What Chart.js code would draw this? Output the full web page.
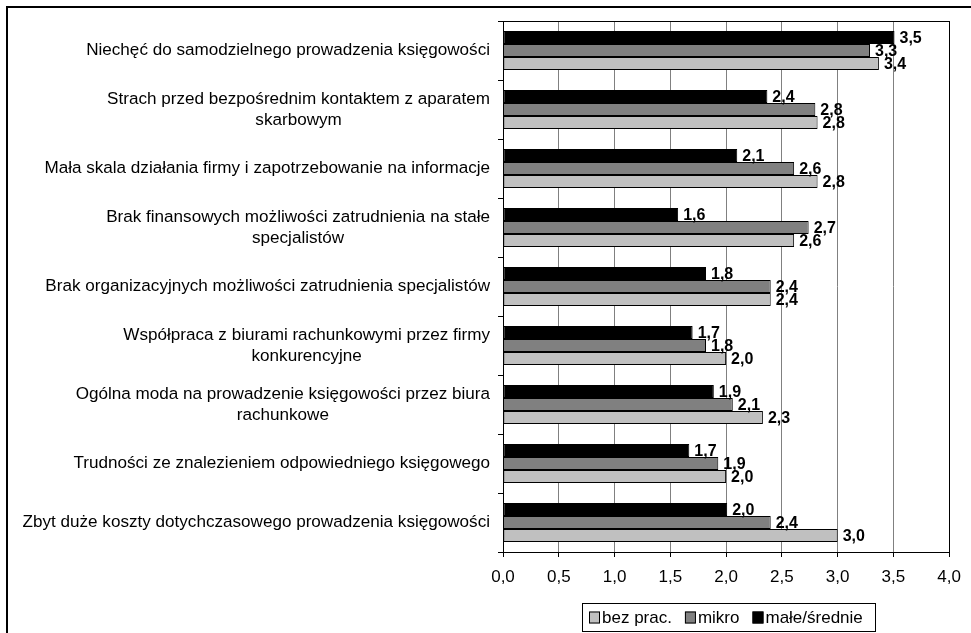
<!DOCTYPE html>
<html>
<head>
<meta charset="utf-8">
<script src="https://cdn.jsdelivr.net/npm/chart.js@4.4.1/dist/chart.umd.min.js"></script>
<style>
  html, body { margin: 0; padding: 0; background: #fff; }
  #wrap { width: 971px; height: 633px; position: relative; }
</style>
</head>
<body>
<div id="wrap"><canvas id="c" width="971" height="633"></canvas></div>
<script>
const categories = [
  ["Niechęć do samodzielnego prowadzenia księgowości"],
  ["Strach przed bezpośrednim kontaktem z aparatem", "skarbowym"],
  ["Mała skala działania firmy i zapotrzebowanie na informacje"],
  ["Brak finansowych możliwości zatrudnienia na stałe", "specjalistów"],
  ["Brak organizacyjnych możliwości zatrudnienia specjalistów"],
  ["Współpraca z biurami rachunkowymi przez firmy", "konkurencyjne"],
  ["Ogólna moda na prowadzenie księgowości przez biura", "rachunkowe"],
  ["Trudności ze znalezieniem odpowiedniego księgowego"],
  ["Zbyt duże koszty dotychczasowego prowadzenia księgowości"]
];
const seriesNames = ["bez prac.", "mikro", "małe/średnie"];
const bezPrac     = [3.37, 2.82, 2.82, 2.61, 2.40, 2.00, 2.33, 2.00, 3.00];
const mikro       = [3.29, 2.80, 2.61, 2.74, 2.40, 1.82, 2.06, 1.93, 2.40];
const maleSrednie = [3.51, 2.37, 2.10, 1.57, 1.82, 1.70, 1.89, 1.67, 2.01];
const xTicks = [0, 0.5, 1, 1.5, 2, 2.5, 3, 3.5, 4];
const colors = ["#C0C0C0", "#808080", "#000000"];

const FONT = '"Liberation Sans", Arial, sans-serif';
const fmt = v => v.toFixed(1).replace('.', ',');

const framePlugin = {
  id: 'frame',
  beforeDraw(chart) {
    const ctx = chart.ctx;
    ctx.save();
    ctx.fillStyle = '#fff';
    ctx.fillRect(0, 0, chart.width, chart.height);
    ctx.strokeStyle = '#000';
    ctx.lineWidth = 2;
    ctx.beginPath();
    ctx.moveTo(7, chart.height + 5);
    ctx.lineTo(7, 7);
    ctx.lineTo(chart.width + 5, 7);
    ctx.stroke();
    ctx.restore();
  },
  afterDraw(chart) {
    const ctx = chart.ctx;
    const a = chart.chartArea;
    ctx.save();
    ctx.strokeStyle = '#000';
    ctx.lineWidth = 1;
    ctx.strokeRect(Math.round(a.left) + 0.5, Math.round(a.top) + 0.5,
                   Math.round(a.right - a.left), Math.round(a.bottom - a.top));
    ctx.restore();
  }
};

const catLabelPlugin = {
  id: 'catLabels',
  afterDraw(chart) {
    const ctx = chart.ctx;
    const ys = chart.scales.y;
    ctx.save();
    ctx.font = '17.1px ' + FONT;
    ctx.fillStyle = '#000';
    ctx.textAlign = 'center';
    ctx.textBaseline = 'middle';
    const rightX = 490;
    const lh = 21;
    categories.forEach((lines, i) => {
      const yc = ys.getPixelForTick(i);
      const w = Math.max(...lines.map(l => ctx.measureText(l).width));
      const cx = rightX - w / 2;
      const y0 = yc - (lines.length - 1) * lh / 2;
      lines.forEach((l, k) => ctx.fillText(l, cx, y0 + k * lh));
    });
    ctx.restore();
  }
};

const valueLabelPlugin = {
  id: 'valueLabels',
  afterDatasetsDraw(chart) {
    const ctx = chart.ctx;
    ctx.save();
    ctx.font = 'bold 16px ' + FONT;
    ctx.fillStyle = '#000';
    ctx.textAlign = 'left';
    ctx.textBaseline = 'middle';
    chart.data.datasets.forEach((ds, di) => {
      const meta = chart.getDatasetMeta(di);
      meta.data.forEach((bar, i) => {
        ctx.fillText(fmt(ds.data[i]), bar.x + 5, bar.y + 1);
      });
    });
    ctx.restore();
  }
};

const legendPlugin = {
  id: 'boxLegend',
  afterDraw(chart) {
    const ctx = chart.ctx;
    ctx.save();
    ctx.font = '17px ' + FONT;
    ctx.textBaseline = 'middle';
    ctx.textAlign = 'left';
    const sw = 11, gapS = 2, gapItem = 13, padL = 7, padR = 12;
    const items = [0, 1, 2].map(k => ({ name: seriesNames[k], color: colors[k] }));
    let total = padL + padR;
    items.forEach((it, k) => {
      it.w = ctx.measureText(it.name).width;
      total += sw + gapS + it.w + (k < items.length - 1 ? gapItem : 0);
    });
    const a = chart.chartArea;
    const cx = (a.left + a.right) / 2 + 2;
    const left = Math.round(cx - total / 2);
    const top = 603, h = 28;
    ctx.strokeStyle = '#000';
    ctx.lineWidth = 1;
    ctx.strokeRect(left + 0.5, top + 0.5, Math.round(total), h);
    let x = left + padL;
    const yc = top + h / 2 + 0.5;
    items.forEach(it => {
      ctx.fillStyle = it.color;
      ctx.fillRect(x, yc - 6, sw, sw + 1);
      ctx.strokeStyle = '#000';
      ctx.strokeRect(x + 0.5, yc - 6 + 0.5, sw - 1, sw);
      x += sw + gapS;
      ctx.fillStyle = '#000';
      ctx.fillText(it.name, x, yc + 1);
      x += it.w + gapItem;
    });
    ctx.restore();
  }
};

// datasets listed top-to-bottom within each group
const datasets = [
  { label: seriesNames[2], data: maleSrednie, backgroundColor: colors[2] },
  { label: seriesNames[1], data: mikro, backgroundColor: colors[1] },
  { label: seriesNames[0], data: bezPrac, backgroundColor: colors[0] }
].map(d => Object.assign(d, {
  borderColor: '#000', borderWidth: 1, borderSkipped: false,
  categoryPercentage: 0.66, barPercentage: 1.0
}));

new Chart(document.getElementById('c'), {
  type: 'bar',
  data: { labels: categories.map(l => l.join(' ')), datasets },
  options: {
    indexAxis: 'y',
    responsive: false,
    animation: false,
    devicePixelRatio: 1,
    layout: { padding: { top: 21, right: 20, left: 0, bottom: 41 } },
    plugins: { legend: { display: false }, tooltip: { enabled: false } },
    scales: {
      x: {
        min: 0, max: 4,
        afterBuildTicks: s => { s.ticks = xTicks.map(v => ({ value: v })); },
        afterFit: s => { s.height = 40; },
        ticks: {
          font: { family: FONT, size: 17 },
          color: '#000',
          padding: 10,
          callback: v => fmt(v)
        },
        grid: { color: '#808080', tickColor: '#000', tickLength: 5, lineWidth: 1 },
        border: { color: '#000', width: 1 }
      },
      y: {
        afterFit: s => { s.width = 503; },
        ticks: { display: false },
        grid: { drawOnChartArea: false, drawTicks: true, tickLength: 5, color: '#000', tickColor: '#000', offset: true },
        border: { color: '#000', width: 1 }
      }
    }
  },
  plugins: [framePlugin, catLabelPlugin, valueLabelPlugin, legendPlugin]
});
</script>
</body>
</html>
